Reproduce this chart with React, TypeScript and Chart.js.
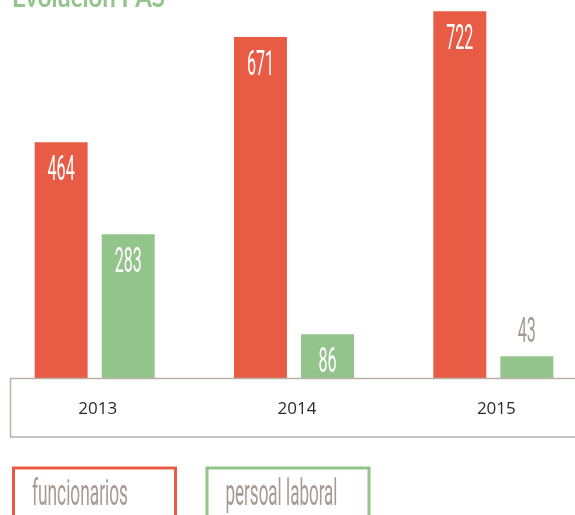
import React, { useEffect, useRef } from "react";
import { Chart, registerables } from "chart.js";

Chart.register(...registerables);

const categories = ["2013", "2014", "2015"];
const seriesNames = ["funcionarios", "persoal laboral"];
const funcionarios = [464, 671, 722];
const persoalLaboral = [283, 86, 43];
const titleText = "Evolución PAS";

const RED = "#E85C45";
const GREEN = "#93C48B";
const GRAY = "#A69A92";
const BORDER = "#BAB0A8";

const CW = 598;
const CH = 515;

function condensedText(ctx: CanvasRenderingContext2D, text: string, x: number, y: number, font: string, sx: number, align: CanvasTextAlign) {
  ctx.save();
  ctx.font = font;
  ctx.translate(x, y);
  ctx.scale(sx, 1);
  ctx.textAlign = align;
  ctx.textBaseline = "alphabetic";
  ctx.fillText(text, 0, 0);
  ctx.restore();
}

const decorPlugin = {
  id: "decor",
  afterDatasetsDraw(chart: any) {
    const ctx: CanvasRenderingContext2D = chart.ctx;
    const offX = 5; // canvas shifted left by 5px
    // value labels
    chart.data.datasets.forEach((ds: any, di: number) => {
      const meta = chart.getDatasetMeta(di);
      meta.data.forEach((el: any, i: number) => {
        const v = ds.data[i];
        const h = el.base - el.y;
        const font = "400 35px Roboto";
        if (h > 40) {
          ctx.fillStyle = "#FFFFFF";
          condensedText(ctx, String(v), el.x, el.y + 38, font, 0.46, "center");
        } else {
          ctx.fillStyle = GRAY;
          condensedText(ctx, String(v), el.x, el.y - 14, font, 0.46, "center");
        }
      });
    });
    // axis box
    ctx.save();
    ctx.strokeStyle = BORDER;
    ctx.lineWidth = 1.5;
    ctx.beginPath();
    ctx.moveTo(CW + 5, 378.5);
    ctx.lineTo(10.5 + offX, 378.5);
    ctx.lineTo(10.5 + offX, 437);
    ctx.lineTo(CW + 5, 437);
    ctx.stroke();
    ctx.restore();
    // year labels
    const xs = chart.scales.x;
    ctx.save();
    ctx.fillStyle = "#2A2A2A";
    ctx.font = "400 17px 'Open Sans'";
    ctx.textAlign = "center";
    ctx.textBaseline = "middle";
    categories.forEach((c, i) => {
      ctx.fillText(c, xs.getPixelForValue(i) + 3, 409);
    });
    ctx.restore();
    // title (cut at top)
    ctx.save();
    ctx.fillStyle = GREEN;
    ctx.font = "bold 28px Lato";
    const tw = ctx.measureText(titleText).width;
    ctx.translate(12 + offX, 7);
    ctx.scale(153 / tw, 1);
    ctx.textAlign = "left";
    ctx.textBaseline = "alphabetic";
    ctx.fillText(titleText, 0, 0);
    ctx.restore();
    // legend
    const boxes = [
      { x: 12, w: 165, color: RED, text: seriesNames[0] },
      { x: 205.5, w: 165, color: GREEN, text: seriesNames[1] },
    ];
    boxes.forEach((b) => {
      ctx.save();
      ctx.strokeStyle = b.color;
      ctx.lineWidth = 3;
      ctx.strokeRect(b.x + 1.5 + offX, 468, b.w - 3, 60);
      ctx.fillStyle = GRAY;
      ctx.font = "400 36px Roboto";
      const w = ctx.measureText(b.text).width;
      const target = b.text === seriesNames[0] ? 96 : 112;
      condensedText(ctx, b.text, b.x + 20 + offX, 505, "400 36px Roboto", target / w, "left");
      ctx.restore();
    });
  },
};

export default function App() {
  const ref = useRef<HTMLCanvasElement>(null);
  useEffect(() => {
    document.body.style.margin = "0";
    const chart = new Chart(ref.current!, {
      type: "bar",
      data: {
        labels: categories,
        datasets: [
          { label: seriesNames[0], data: funcionarios, backgroundColor: RED, borderWidth: 0, categoryPercentage: 0.673, barPercentage: 0.79 },
          { label: seriesNames[1], data: persoalLaboral, backgroundColor: GREEN, borderWidth: 0, categoryPercentage: 0.673, barPercentage: 0.79 },
        ],
      },
      options: {
        responsive: false,
        animation: false,
        devicePixelRatio: 1,
        layout: { padding: { top: 0, bottom: 137, left: 0, right: 0 } },
        plugins: { legend: { display: false }, tooltip: { enabled: false }, title: { display: false } },
        scales: {
          x: { display: false, offset: true },
          y: { display: false, min: 0, max: 744 },
        },
      },
      plugins: [decorPlugin],
    });
    return () => chart.destroy();
  }, []);
  return (
    <div style={{ position: "fixed", left: 0, top: 0, width: 575, height: 515, overflow: "hidden", background: "#fff" }}>
      <canvas ref={ref} width={CW} height={CH} style={{ position: "absolute", left: -5, top: 0, width: CW, height: CH }} />
    </div>
  );
}
